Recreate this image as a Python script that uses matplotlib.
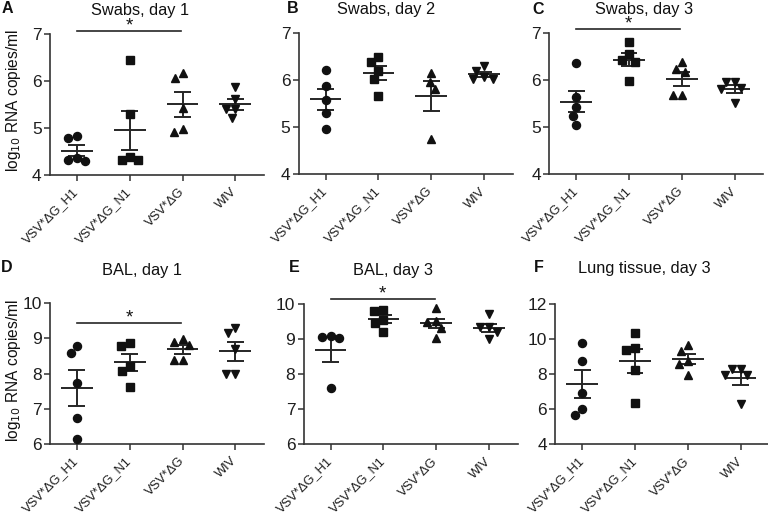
import numpy as np
import matplotlib
matplotlib.use('Agg')
import matplotlib.pyplot as plt

plt.rcParams['font.family'] = ['Liberation Sans', 'DejaVu Sans']

# ---------------- data ----------------
groups = ['VSV*ΔG_H1', 'VSV*ΔG_N1', 'VSV*ΔG', 'WIV']

swabs_d1 = [[4.82, 4.78, 4.36, 4.32, 4.30],
            [6.45, 5.29, 4.39, 4.31, 4.31],
            [6.17, 6.06, 5.42, 4.97, 4.91],
            [5.88, 5.62, 5.40, 5.40, 5.22]]
swabs_d2 = [[6.22, 5.88, 5.58, 5.30, 4.97],
            [6.50, 6.40, 6.20, 6.03, 5.66],
            [6.16, 5.97, 5.81, 4.74],
            [6.30, 6.20, 6.08, 6.02, 6.02]]
swabs_d3 = [[6.37, 5.65, 5.42, 5.24, 5.05],
            [6.82, 6.55, 6.43, 6.40, 5.98],
            [6.39, 6.24, 6.18, 5.68, 5.68],
            [5.97, 5.97, 5.83, 5.81, 5.51]]
bal_d1 = [[8.77, 8.59, 7.73, 6.74, 6.14],
          [8.88, 8.78, 8.22, 8.08, 7.62],
          [8.99, 8.91, 8.80, 8.39, 8.39],
          [9.30, 9.16, 8.70, 8.00, 7.98]]
bal_d3 = [[9.08, 9.05, 9.01, 7.61],
          [9.81, 9.78, 9.53, 9.46, 9.20],
          [9.87, 9.51, 9.49, 9.30, 9.02],
          [9.72, 9.33, 9.33, 9.20, 9.00]]
lung_d3 = [[9.75, 8.76, 6.90, 6.00, 5.68],
           [10.32, 9.49, 9.37, 8.23, 6.34],
           [9.64, 9.31, 8.74, 8.59, 7.93],
           [8.28, 8.28, 7.95, 7.95, 6.27]]

titles = ['Swabs, day 1', 'Swabs, day 2', 'Swabs, day 3',
          'BAL, day 1', 'BAL, day 3', 'Lung tissue, day 3']
letters = ['A', 'B', 'C', 'D', 'E', 'F']
panels = [swabs_d1, swabs_d2, swabs_d3, bal_d1, bal_d3, lung_d3]
yticks_list = [[4, 5, 6, 7], [4, 5, 6, 7], [4, 5, 6, 7],
               [6, 7, 8, 9, 10], [6, 7, 8, 9, 10], [4, 6, 8, 10, 12]]
# significance bar heights (data units) for panels with a star
sig_levels = {0: 7.07, 2: 7.085, 3: 9.43, 4: 10.125}

# ---------------- layout ----------------
W, H = 768, 514
fig = plt.figure(figsize=(W / 100, H / 100), dpi=100)

lefts = [50, 298.7, 549.3, 50, 303.7, 555.3]
tops = [34.2, 33.4, 33.4, 303.2, 303.7, 303.7]
ax_w, ax_h = 213.8, 140.6
title_y = [10.5, 9.5, 9.5, 271, 270, 269]
title_x = [140, 386, 644, 142, 393, 644]
letter_pos = [(7, 8.5), (293, 8.5), (538, 10), (7, 268), (294, 267), (539, 268)]

markers = ['o', 's', '^', 'v']
msizes = [5.8, 5.5, 6.4, 6.4]
ink = '#111111'
line_c = '#262626'


def swarm_x(ax, x0, vals, d=9.0):
    pts = ax.transData.transform(np.column_stack([np.full(len(vals), x0), vals]))
    ys = pts[:, 1]
    xc = pts[0, 0]
    placed = []
    out = []
    for y in ys:
        cands = [0.0]
        for (px, py) in placed:
            dy = abs(y - py)
            if dy < d:
                w = np.sqrt(d * d - dy * dy)
                cands += [px - w, px + w]
        valid = [c for c in cands
                 if all((c - px) ** 2 + (y - py) ** 2 >= d * d - 1e-6 for px, py in placed)]
        best = min(valid, key=lambda c: (abs(c), c))
        placed.append((best, y))
        out.append(best)
    back = ax.transData.inverted().transform(np.column_stack([xc + np.array(out), ys]))
    return back[:, 0]


for k in range(6):
    l, t = lefts[k], tops[k]
    ax = fig.add_axes([l / W, 1 - (t + ax_h) / H, ax_w / W, ax_h / H])
    yt = yticks_list[k]
    ax.set_xlim(-0.51, 3.54)
    ax.set_ylim(yt[0], yt[-1])
    ax.set_yticks(yt)
    ax.set_yticklabels([str(v) for v in yt], fontsize=12.5, color='#1e1e1e')
    ax.set_xticks(range(4))
    ax.set_xticklabels(groups, rotation=45, ha='right', va='center',
                       rotation_mode='anchor', fontsize=9.3, color='#1e1e1e')
    for s in ['top', 'right']:
        ax.spines[s].set_visible(False)
    for s in ['left', 'bottom']:
        ax.spines[s].set_linewidth(1.2)
        ax.spines[s].set_color('#333333')
    ax.tick_params(axis='both', direction='out', length=4, width=1.1, color='#333333')
    ax.tick_params(axis='x', pad=7)
    ax.tick_params(axis='y', pad=2)

    for i, vals in enumerate(panels[k]):
        vals = np.asarray(vals, dtype=float)
        m = vals.mean()
        sem = vals.std(ddof=1) / np.sqrt(len(vals))
        ax.hlines(m, i - 0.3, i + 0.3, color=line_c, lw=1.4, zorder=2)
        ax.vlines(i, m - sem, m + sem, color=line_c, lw=1.4, zorder=2)
        ax.hlines([m - sem, m + sem], i - 0.16, i + 0.16, color=line_c, lw=1.4, zorder=2)
        xs = swarm_x(ax, i, vals)
        ax.plot(xs, vals, linestyle='none', marker=markers[i], ms=msizes[i],
                color=ink, mec=ink, zorder=3, clip_on=False)

    if k in sig_levels:
        yl = sig_levels[k]
        ax.plot([0, 1.97], [yl, yl], color=line_c, lw=1.2, clip_on=False)
        ax.annotate('*', xy=(0.985, yl), xytext=(0, 0.5), textcoords='offset points',
                    ha='center', va='baseline', fontsize=13.5, color=ink,
                    annotation_clip=False)

    fig.text(title_x[k] / W, 1 - title_y[k] / H, titles[k], ha='center', va='center',
             fontsize=11.8, color=ink)
    lx, ly = letter_pos[k]
    fig.text(lx / W, 1 - ly / H, letters[k], ha='center', va='center',
             fontsize=11.5, fontweight='bold', color=ink)

ylab = 'log$_{10}$ RNA copies/ml'
fig.text(14 / W, 1 - 101 / H, ylab, rotation=90, ha='center', va='center',
         fontsize=11.2, color=ink)
fig.text(14 / W, 1 - 371 / H, ylab, rotation=90, ha='center', va='center',
         fontsize=11.2, color=ink)

fig.savefig('out.png', dpi=100, facecolor='white')
